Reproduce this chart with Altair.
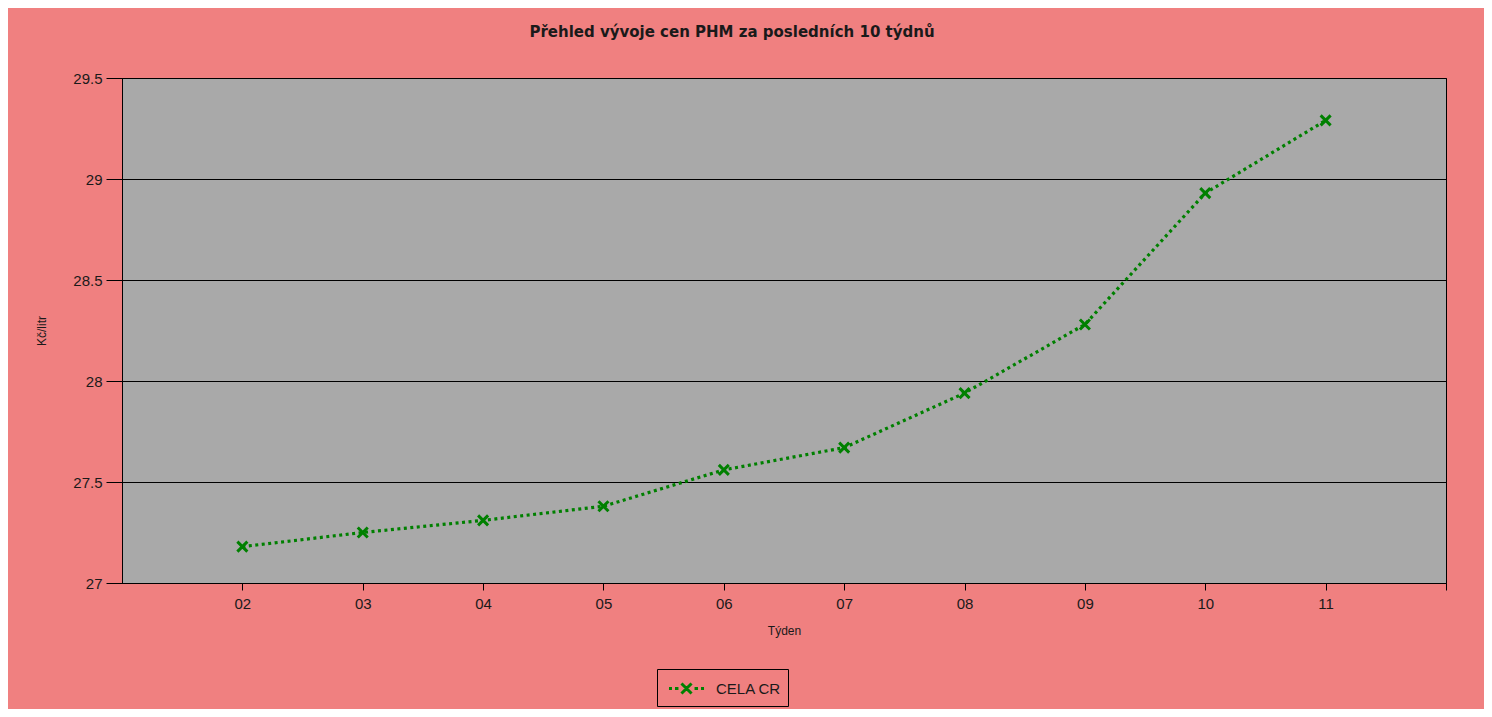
import altair as alt
import pandas as pd

weeks = [2, 3, 4, 5, 6, 7, 8, 9, 10, 11]
prices = [27.18, 27.25, 27.31, 27.38, 27.56, 27.67, 27.94, 28.28, 28.93, 29.29]
series = ["CELA CR"] * len(weeks)

title_text = "Přehled vývoje cen PHM za posledních 10 týdnů"
x_title = "Týden"
y_title = "Kč/litr"

df = pd.DataFrame({"week": weeks, "price": prices, "series": series})

GREEN = "#008000"
X_SHAPE = "M-1,-1L1,1M-1,1L1,-1"
# legend glyph: dotted line with an X
LEGEND_SHAPE = (
    "M-0.42,-0.42L0.42,0.42M-0.42,0.42L0.42,-0.42"
    "M0.67,0L0.96,0M1.21,0L1.46,0"
    "M-0.67,0L-0.96,0M-1.21,0L-1.46,0"
)

x_enc = alt.X(
    "week:Q",
    scale=alt.Scale(domain=[1, 12], nice=False, zero=False),
    axis=alt.Axis(
        title=x_title,
        values=[2, 3, 4, 5, 6, 7, 8, 9, 10, 11, 12],
        labelExpr="datum.value >= 12 ? '' : (datum.value < 10 ? '0' : '') + datum.value",
        grid=False,
        tickSize=7,
        labelPadding=6,
        titlePadding=14,
    ),
)
y_enc = alt.Y(
    "price:Q",
    scale=alt.Scale(domain=[27, 29.5], nice=False, zero=False),
    axis=alt.Axis(
        title=y_title,
        values=[27, 27.5, 28, 28.5, 29, 29.5],
        format="~g",
        grid=True,
        gridColor="black",
        gridOpacity=1,
        gridWidth=1,
        tickSize=16,
        labelPadding=4,
        titlePadding=24,
    ),
)

line = alt.Chart(df).mark_line(
    strokeWidth=3.2, strokeDash=[3, 3.5], color=GREEN
).encode(x=x_enc, y=y_enc)

points = alt.Chart(df).mark_point(
    shape=X_SHAPE, filled=False, strokeWidth=3, size=100, opacity=1
).encode(
    x=x_enc,
    y=y_enc,
    color=alt.Color(
        "series:N",
        scale=alt.Scale(domain=["CELA CR"], range=[GREEN]),
        legend=alt.Legend(
            title=None,
            orient="none",
            legendX=535,
            legendY=591,
            symbolType=LEGEND_SHAPE,
            symbolSize=576,
            symbolStrokeWidth=3,
            symbolFillColor="transparent",
            symbolOffset=10,
            labelOffset=16,
            labelFontSize=15,
            labelFont="Liberation Sans",
            labelColor="#1a1a1a",
            strokeColor="black",
            padding=6,
            cornerRadius=0,
        ),
    ),
)

chart = (
    alt.layer(line, points)
    .properties(
        width=1324,
        height=505,
        autosize=alt.AutoSizeParams(type="none"),
        padding={"left": 114, "top": 70, "right": 38, "bottom": 126},
        title=alt.TitleParams(
            text=title_text,
            font="DejaVu Sans",
            fontSize=15,
            fontWeight="bold",
            color="#1a1a1a",
            anchor="middle",
            dx=-52,
            offset=31,
        ),
    )
    .configure(background="#F08080")
    .configure_view(fill="#A9A9A9", stroke="black", strokeWidth=1)
    .configure_axis(
        domainColor="black",
        tickColor="black",
        labelFont="Liberation Sans",
        labelFontSize=15,
        labelColor="#1a1a1a",
        titleFont="Liberation Sans",
        titleFontSize=12,
        titleFontWeight="normal",
        titleColor="#1a1a1a",
    )
)

chart.save("out.html", embed_options={"renderer": "svg", "actions": False})
